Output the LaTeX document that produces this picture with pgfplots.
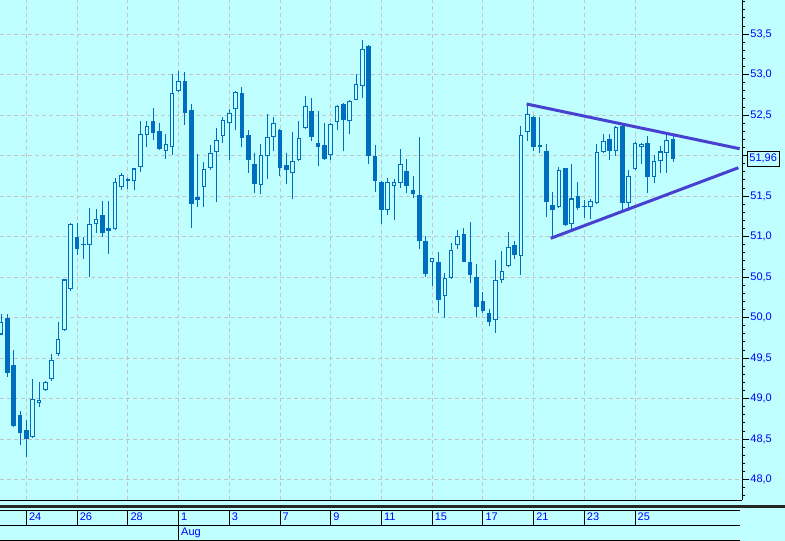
\documentclass[border=0pt]{standalone}
\usepackage{fontspec}
\setmainfont{Liberation Sans}
\usepackage{pgfplots}
\pgfplotsset{compat=1.18}
\usepackage{pgfplotstable}

\definecolor{bg}{RGB}{192,255,255}
\definecolor{candle}{RGB}{0,110,190}
\definecolor{trend}{RGB}{72,64,208}
\definecolor{gridc}{RGB}{196,196,196}
\definecolor{lblue}{RGB}{0,0,255}

% bar index, open, high, low, close (4 bars a day)
\pgfplotstableread{
i o h l c
0 49.79 50.04 49.78 49.95
1 50.00 50.04 49.27 49.31
2 49.41 49.60 48.65 48.66
3 48.80 48.85 48.42 48.58
4 48.61 48.73 48.28 48.50
5 48.52 49.24 48.51 49.00
6 48.95 49.20 48.89 48.98
7 49.10 49.22 49.09 49.21
8 49.24 49.55 49.22 49.48
9 49.55 49.94 49.53 49.73
10 49.84 50.48 49.83 50.47
11 50.35 51.17 50.33 51.15
12 50.99 51.17 50.77 50.85
13 50.89 50.99 50.72 50.89
14 50.89 51.35 50.50 51.15
15 51.15 51.34 51.04 51.22
16 51.27 51.44 51.00 51.04
17 51.10 51.44 50.79 51.07
18 51.09 51.72 51.08 51.67
19 51.61 51.78 51.57 51.76
20 51.71 51.72 51.59 51.69
21 51.68 51.85 51.57 51.84
22 51.86 52.43 51.80 52.27
23 52.25 52.42 52.10 52.36
24 52.43 52.59 52.19 52.28
25 52.30 52.40 52.07 52.08
26 52.05 52.27 51.96 52.14
27 52.10 53.01 52.01 52.77
28 52.80 53.04 52.79 52.92
29 52.92 53.03 52.38 52.52
30 52.56 52.64 51.11 51.40
31 51.49 52.02 51.37 51.45
32 51.61 51.92 51.36 51.83
33 51.85 52.13 51.82 52.03
34 52.04 52.34 51.42 52.19
35 52.24 52.48 52.15 52.44
36 52.40 52.57 51.94 52.52
37 52.57 52.80 52.31 52.79
38 52.77 52.84 52.10 52.22
39 52.25 52.31 51.79 51.95
40 51.90 52.03 51.54 51.65
41 51.64 52.14 51.52 52.01
42 51.99 52.51 51.71 52.23
43 52.23 52.48 52.06 52.40
44 52.31 52.33 51.75 51.84
45 51.88 52.03 51.65 51.82
46 51.78 52.29 51.46 51.93
47 51.94 52.43 51.93 52.22
48 52.34 52.73 52.33 52.61
49 52.55 52.71 52.18 52.23
50 52.16 52.55 51.87 52.10
51 52.13 52.40 51.94 51.96
52 52.01 52.40 51.94 52.39
53 52.41 52.62 52.31 52.61
54 52.64 52.65 52.05 52.44
55 52.43 52.68 52.26 52.67
56 52.69 53.01 52.68 52.88
57 52.86 53.43 52.71 53.31
58 53.35 53.37 51.89 51.99
59 51.99 52.13 51.55 51.68
60 51.67 51.68 51.16 51.33
61 51.33 51.72 51.26 51.67
62 51.62 51.71 51.21 51.67
63 51.66 52.08 51.60 51.90
64 51.81 51.96 51.54 51.62
65 51.58 51.75 51.48 51.52
66 51.51 52.23 50.84 50.94
67 50.94 51.01 50.50 50.54
68 50.68 50.73 50.39 50.73
69 50.68 50.81 50.06 50.22
70 50.26 50.55 50.00 50.49
71 50.49 50.92 50.48 50.83
72 50.89 51.08 50.85 51.01
73 51.03 51.10 50.68 50.69
74 50.69 51.18 50.42 50.52
75 50.50 50.66 50.01 50.13
76 50.20 50.31 50.05 50.08
77 50.06 50.11 49.90 49.95
78 49.97 50.71 49.81 50.46
79 50.46 50.82 50.43 50.57
80 50.63 51.06 50.62 50.87
81 50.90 50.94 50.72 50.77
82 50.76 52.36 50.52 52.25
83 52.29 52.64 52.18 52.51
84 52.48 52.49 52.05 52.11
85 52.11 52.48 52.03 52.11
86 52.06 52.14 51.24 51.42
87 51.39 51.55 50.98 51.33
88 51.36 51.86 51.35 51.82
89 51.84 51.85 51.13 51.14
90 51.16 51.90 51.06 51.47
91 51.50 51.67 51.33 51.35
92 51.36 51.45 51.23 51.36
93 51.36 51.46 51.22 51.44
94 51.41 52.14 51.40 52.04
95 52.04 52.27 52.03 52.18
96 52.20 52.27 51.94 52.06
97 52.06 52.36 51.99 52.35
98 52.36 52.39 51.33 51.41
99 51.41 51.82 51.31 51.75
100 51.83 52.17 51.82 52.15
101 52.11 52.16 51.90 52.14
102 52.16 52.24 51.54 51.73
103 51.73 52.01 51.66 51.93
104 51.93 52.12 51.79 52.05
105 52.03 52.27 51.79 52.19
106 52.20 52.25 51.92 51.96
}\bars

\begin{document}
\begin{tikzpicture}
\fill[bg] (0,0) rectangle (785pt,541pt);
\useasboundingbox (0,0) rectangle (785pt,541pt);
\begin{axis}[
  at={(0pt,40.5pt)}, anchor=south west,
  scale only axis, width=742pt, height=500.5pt,
  xmin=-0.158, xmax=116.875,
  ymin=47.741, ymax=53.92,
  axis x line*=bottom, axis y line*=right,
  axis line style={black, line width=0.8pt},
  xtick={4,12,...,100}, xticklabels={}, xtick style={draw=none},
  ytick={48,48.5,...,53.5},
  yticklabels={{48,0},{48,5},{49,0},{49,5},{50,0},{50,5},{51,0},{51,5},{},{52,5},{53,0},{53,5}},
  minor ytick={47.8,47.9,...,53.9},
  tick align=outside,
  major tick length=6.7pt, minor tick length=3.3pt,
  ytick style={black, line width=0.8pt},
  grid=major,
  major grid style={gridc, dash pattern=on 4pt off 3pt, line width=0.9pt},
  yticklabel style={font=\fontsize{11}{13}\selectfont, text=lblue, anchor=west, inner sep=1.5pt},
]
% wicks
\addplot[draw=none, mark=none,
  error bars/.cd, y dir=plus, y explicit, error mark=none,
  error bar style={draw=candle, line width=1pt}]
  table[x=i, y=l, y error expr=\thisrow{h}-\thisrow{l}] {\bars};
% bodies
\addplot[draw=none, mark=none,
  error bars/.cd, y dir=plus, y explicit, error mark=none,
  error bar style={draw=candle, line width=4.6pt, line cap=butt}]
  table[x=i, y expr={min(\thisrow{o},\thisrow{c})},
        y error expr={max(abs(\thisrow{c}-\thisrow{o}),0.014)}] {\bars};
% hollow inside of rising bars
\addplot[draw=none, mark=none,
  error bars/.cd, y dir=plus, y explicit, error mark=none,
  error bar style={draw=bg, line width=2.6pt, line cap=butt}]
  table[x=i, y expr={\thisrow{o}+0.013},
        y error expr={max(\thisrow{c}-\thisrow{o}-0.026,0)}] {\bars};
% triangle
\addplot[trend, line width=3pt] coordinates {(82.9,52.636) (116.5,52.084)};
\addplot[trend, line width=3pt] coordinates {(86.7,50.978) (116.3,51.849)};
\end{axis}

% last price box
\node[draw=black, line width=0.8pt, minimum width=31.7pt, minimum height=15pt, inner sep=0pt,
  text=lblue, font=\fontsize{11}{13}\selectfont, fill=bg] at (763.2pt,382.5pt) {51,96};

% date band
\draw[line width=2.5pt, black!85] (0,34.5pt) -- (785pt,34.5pt);
\draw[line width=0.8pt] (0,30.5pt) -- (740pt,30.5pt);
\draw[line width=0.8pt] (0,15.5pt) -- (740pt,15.5pt);
\draw[line width=0.8pt] (0,1pt) -- (740pt,1pt);
\foreach \k/\lab in {0/24,1/26,2/28,3/1,4/3,5/7,6/9,7/11,8/15,9/17,10/21,11/23,12/25} {
  \pgfmathsetmacro\xs{26.36+50.72*\k}
  \draw[line width=0.8pt] (\xs pt,30.5pt) -- (\xs pt,15.5pt);
  \node[anchor=base west, inner sep=0pt, text=lblue, font=\fontsize{11}{13}\selectfont]
    at (\xs pt+2.5pt,20.3pt) {\lab};
}
\draw[line width=0.8pt] (178.52pt,15.5pt) -- (178.52pt,1pt);
\node[anchor=base west, inner sep=0pt, text=lblue, font=\fontsize{11}{13}\selectfont]
  at (181pt,5pt) {Aug};
\end{tikzpicture}
\end{document}
